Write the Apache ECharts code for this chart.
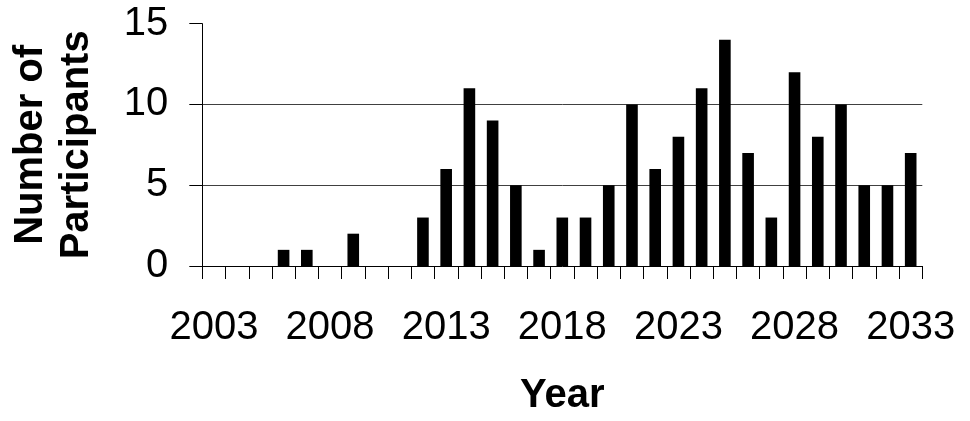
<!DOCTYPE html>
<html>
<head>
<meta charset="utf-8">
<style>
  html, body { margin: 0; padding: 0; background: #fff; }
  #chart { width: 970px; height: 421px; }
</style>
<script src="https://cdn.jsdelivr.net/npm/echarts@6/dist/echarts.min.js"></script>
</head>
<body>
<div id="chart"></div>
<script>
// Participants per year
const years = [
  '2003', '2004', '2005', '2006', '2007', '2008', '2009', '2010', '2011', '2012',
  '2013', '2014', '2015', '2016', '2017', '2018', '2019', '2020', '2021', '2022',
  '2023', '2024', '2025', '2026', '2027', '2028', '2029', '2030', '2031', '2032', '2033'
];
const participants = [
  0, 0, 0, 1, 1, 0, 2, 0, 0, 3,
  6, 11, 9, 5, 1, 3, 3, 5, 10, 6,
  8, 11, 14, 7, 3, 12, 8, 10, 5, 5, 7
];
const yTicks = [0, 5, 10, 15];

const FONT = "'Liberation Sans', Arial, sans-serif";

const chart = echarts.init(document.getElementById('chart'), null, { renderer: 'canvas' });
chart.setOption({
  animation: false,
  backgroundColor: '#ffffff',
  grid: { left: 202.3, right: 47.7, top: 23.7, bottom: 150.3, containLabel: false },
  xAxis: {
    type: 'category',
    data: years,
    boundaryGap: true,
    name: 'Year',
    nameLocation: 'middle',
    nameGap: 110,
    nameTextStyle: { fontFamily: FONT, fontSize: 40, fontWeight: 'bold', color: '#000', lineHeight: 40 },
    axisLine: { show: true, lineStyle: { color: '#000', width: 1 } },
    axisTick: { show: true, interval: 0, length: 13, alignWithLabel: false, lineStyle: { color: '#000' } },
    axisLabel: { interval: 4, margin: 42, fontFamily: FONT, fontSize: 40, color: '#000', lineHeight: 40 },
    splitLine: { show: false }
  },
  yAxis: {
    type: 'value',
    min: yTicks[0],
    max: yTicks[yTicks.length - 1],
    interval: 5,
    name: 'Number of\nParticipants',
    nameLocation: 'middle',
    nameGap: 102,
    nameTextStyle: { fontFamily: FONT, fontSize: 40, fontWeight: 'bold', color: '#000', lineHeight: 46 },
    axisLine: { show: true, lineStyle: { color: '#000', width: 1 } },
    axisTick: { show: true, length: 13, inside: false, lineStyle: { color: '#000' } },
    axisLabel: { margin: 34, fontFamily: FONT, fontSize: 40, color: '#000' },
    splitLine: {
      show: true,
      lineStyle: { color: ['rgba(0,0,0,0)', '#404040', '#404040', 'rgba(0,0,0,0)'], width: 1 }
    }
  },
  series: [{
    type: 'bar',
    data: participants,
    barWidth: '50%',
    itemStyle: { color: '#000' },
    silent: true
  }]
});
</script>
</body>
</html>
